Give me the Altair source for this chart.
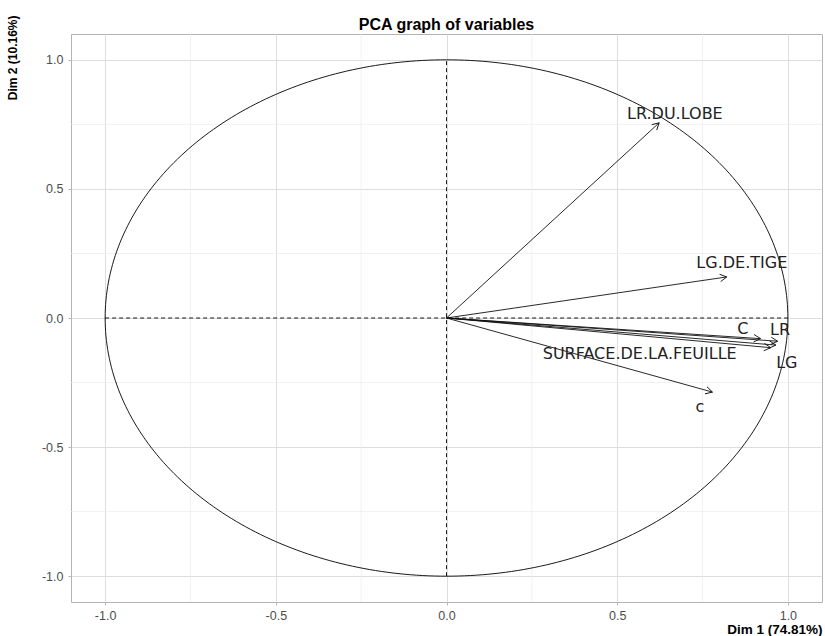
import altair as alt
import pandas as pd
import numpy as np

# ---- data ----
variables = ["LR.DU.LOBE", "LG.DE.TIGE", "C", "LR", "LG", "SURFACE.DE.LA.FEUILLE", "c"]
dim1 = [0.623, 0.821, 0.920, 0.970, 0.965, 0.950, 0.779]
dim2 = [0.756, 0.159, -0.080, -0.090, -0.105, -0.115, -0.287]
label_x = [0.669, 0.865, 0.868, 0.977, 0.997, 0.566, 0.742]
label_y = [0.791, 0.213, -0.043, -0.047, -0.174, -0.140, -0.345]
major_ticks = [-1.0, -0.5, 0.0, 0.5, 1.0]
minor_ticks = [-0.75, -0.25, 0.25, 0.75]

W, H = 751, 568
DOM = [-1.1, 1.1]
FONT = "Liberation Sans"
LFONT = "DejaVu Sans"

xs = alt.Scale(domain=DOM, nice=False, zero=False)
ys = alt.Scale(domain=DOM, nice=False, zero=False)

# pixel-space angle of each arrow (for head rotation)
px_per_x = W / (DOM[1] - DOM[0])
px_per_y = H / (DOM[1] - DOM[0])
ang = [(np.degrees(np.arctan2(-b * px_per_y, a * px_per_x)) + 360) % 360 for a, b in zip(dim1, dim2)]

arrows = pd.DataFrame({
    "var": variables, "x0": 0.0, "y0": 0.0, "x": dim1, "y": dim2,
    "lx": label_x, "ly": label_y, "ang": ang,
})

t = np.linspace(0, 2 * np.pi, 361)
circle = pd.DataFrame({"i": np.arange(len(t)), "cx": np.cos(t), "cy": np.sin(t)})

minor = pd.DataFrame({"v": minor_ticks})

LBL = "replace(datum.label, '\u2212', '-')"

x_axis = alt.Axis(values=major_ticks, format=".1f", labelExpr=LBL, title="Dim 1 (74.81%)",
                  titleAnchor="end", titleFontWeight="bold", titleFontSize=13.5,
                  titleColor="#000000", titlePadding=1, labelPadding=4,
                  labelColor="#4d4d4d", labelFontSize=12.5, tickColor="#b3b3b3",
                  tickSize=3, domain=False, gridColor="#d9d9d9", gridWidth=0.9)
y_axis = alt.Axis(values=major_ticks, format=".1f", labelExpr=LBL, title="Dim 2 (10.16%)",
                  titleAngle=270, titleAlign="right", titleBaseline="middle",
                  titleX=-59, titleY=-19,
                  titleFontWeight="bold", titleFontSize=12, titleColor="#000000",
                  labelColor="#4d4d4d", labelFontSize=12.5, tickColor="#b3b3b3",
                  tickSize=3, labelPadding=5, domain=False, gridColor="#d9d9d9", gridWidth=0.9)

base_grid = alt.Chart(pd.DataFrame({"v": [0.0]})).mark_point(opacity=0).encode(
    x=alt.X("v:Q", scale=xs, axis=x_axis),
    y=alt.Y("v:Q", scale=ys, axis=y_axis),
)

minor_v = alt.Chart(minor).mark_rule(color="#ebebeb", strokeWidth=0.7).encode(
    x=alt.X("v:Q", scale=xs))
minor_h = alt.Chart(minor).mark_rule(color="#ebebeb", strokeWidth=0.7).encode(
    y=alt.Y("v:Q", scale=ys))

circ = alt.Chart(circle).mark_line(color="#000000", strokeWidth=0.9).encode(
    x=alt.X("cx:Q", scale=xs),
    y=alt.Y("cy:Q", scale=ys),
    order="i:Q",
)

zero_df = pd.DataFrame({"z": [0.0], "a": [-1.0], "b": [1.0]})
dash_v = alt.Chart(zero_df).mark_rule(color="#000000", strokeWidth=0.9, strokeDash=[4, 3]).encode(
    x=alt.X("z:Q", scale=xs),
    y=alt.Y("a:Q", scale=ys), y2="b:Q")
dash_h = alt.Chart(zero_df).mark_rule(color="#000000", strokeWidth=0.9, strokeDash=[4, 3]).encode(
    y=alt.Y("z:Q", scale=ys),
    x=alt.X("a:Q", scale=xs), x2="b:Q")

shafts = alt.Chart(arrows).mark_rule(color="#111111", strokeWidth=0.9).encode(
    x=alt.X("x0:Q", scale=xs), y=alt.Y("y0:Q", scale=ys),
    x2="x:Q", y2="y:Q")

heads = alt.Chart(arrows).mark_point(
    shape="M -1 -0.55 L 0 0 L -1 0.55", filled=False, size=180,
    stroke="#111111", strokeWidth=0.9, opacity=1).encode(
    x=alt.X("x:Q", scale=xs), y=alt.Y("y:Q", scale=ys),
    angle=alt.Angle("ang:Q", scale=None))

labels = alt.Chart(arrows).mark_text(font=LFONT, fontSize=16, color="#222222",
                                     align="center", baseline="middle").encode(
    x=alt.X("lx:Q", scale=xs), y=alt.Y("ly:Q", scale=ys),
    text="var:N")

chart = alt.layer(base_grid, minor_v, minor_h, circ, dash_v, dash_h, shafts, heads, labels).properties(
    width=W, height=H,
    title=alt.Title("PCA graph of variables", fontSize=16, fontWeight="bold",
                    font=FONT, anchor="middle", offset=0, dy=18, color="#000000"),
    autosize=alt.AutoSizeParams(type="none"),
    padding={"left": 71, "top": 34, "right": 3, "bottom": 34},
).configure_view(stroke="#b3b3b3", strokeWidth=1).configure_axis(
    labelFont=FONT, titleFont=FONT)

chart.save("out.html", embed_options={"renderer": "svg", "actions": False})
